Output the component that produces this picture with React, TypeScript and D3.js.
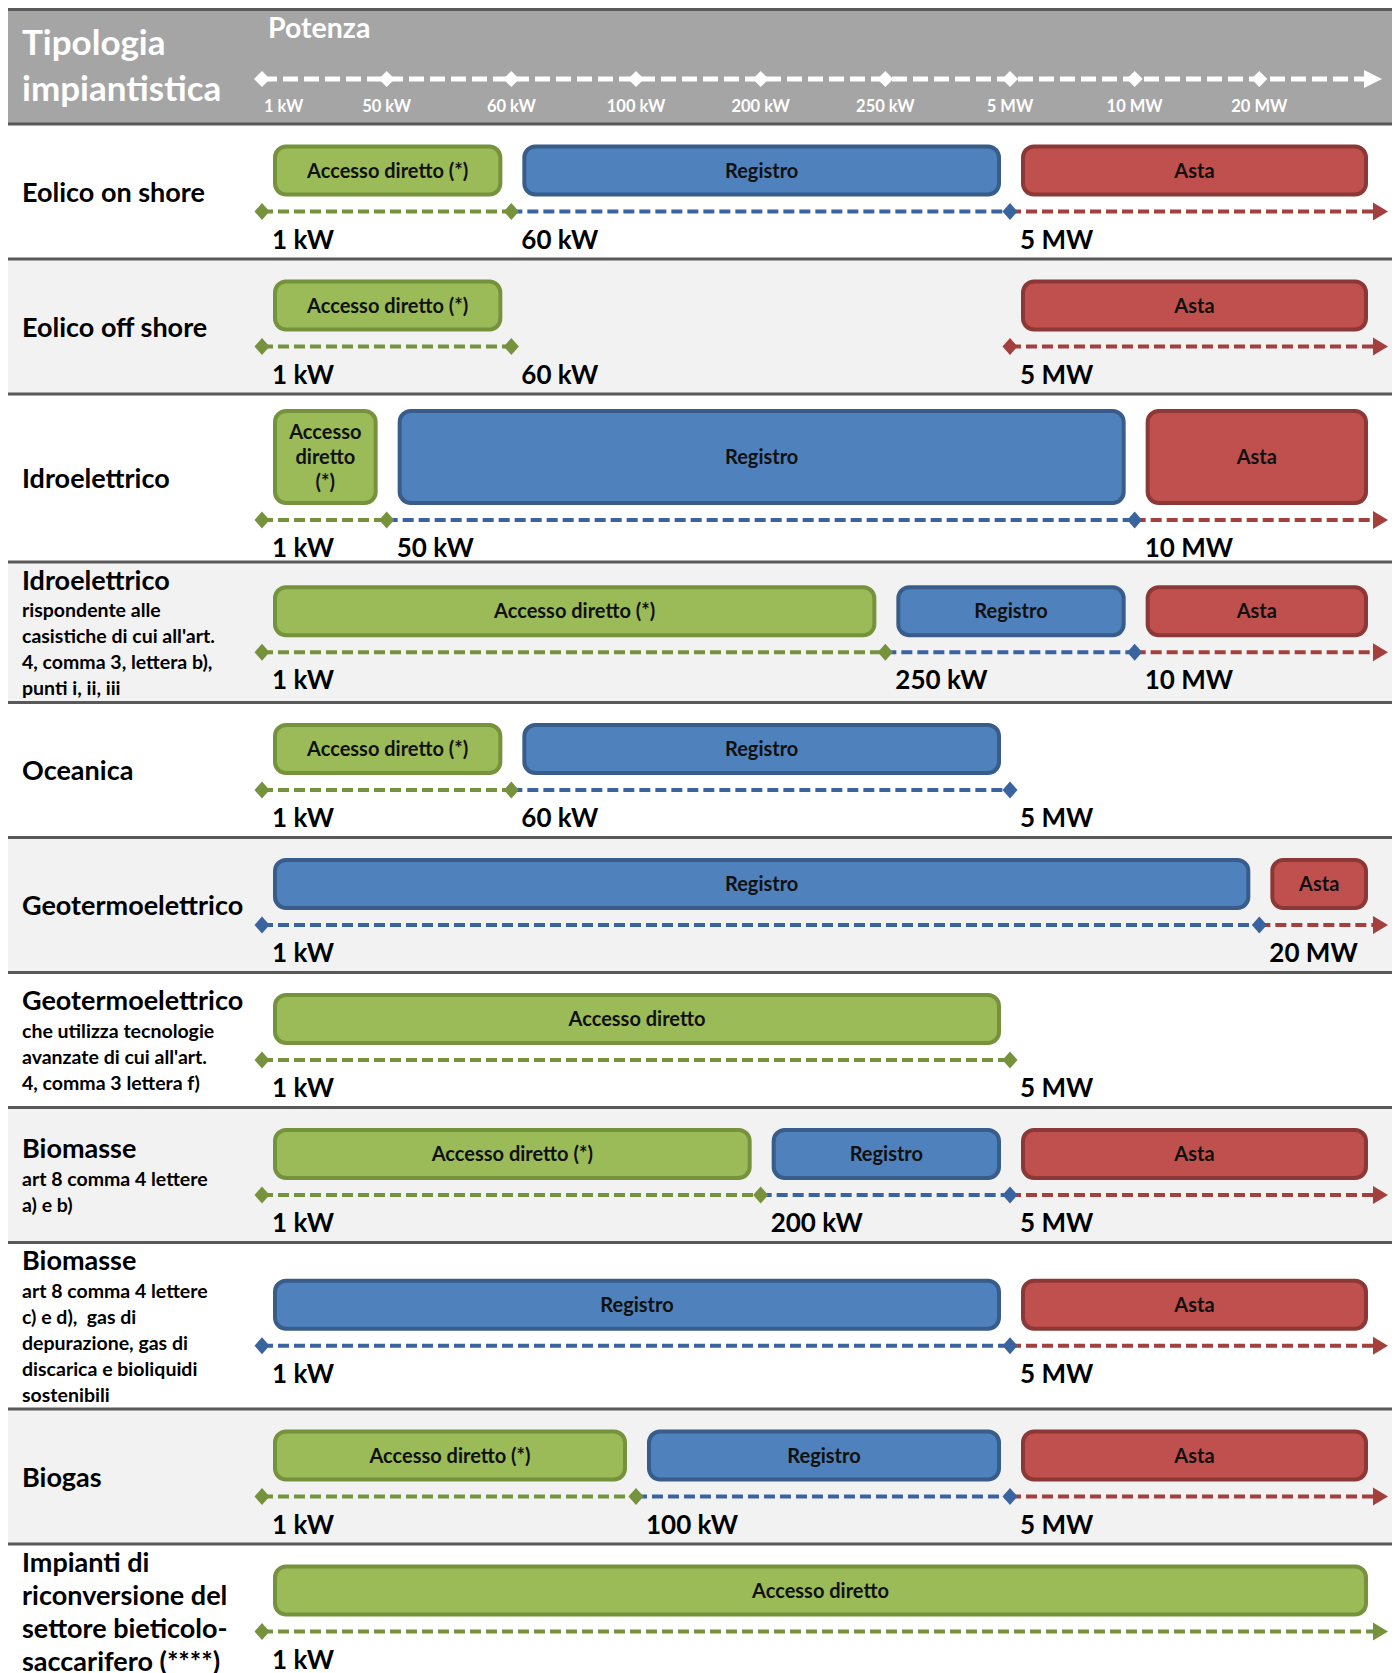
import React from "react";
import * as d3 from "d3";

// ---------- DATA ----------
const TICKS = ["1 kW", "50 kW", "60 kW", "100 kW", "200 kW", "250 kW", "5 MW", "10 MW", "20 MW"];
const OPEN_END = "oltre";

const CATEGORY_TITLES: string[][] = [
  ["Eolico on shore"],
  ["Eolico off shore"],
  ["Idroelettrico"],
  ["Idroelettrico"],
  ["Oceanica"],
  ["Geotermoelettrico"],
  ["Geotermoelettrico"],
  ["Biomasse"],
  ["Biomasse"],
  ["Biogas"],
  ["Impianti di", "riconversione del", "settore bieticolo-", "saccarifero (****)"],
];

const CATEGORY_NOTES: string[][] = [
  [],
  [],
  [],
  ["rispondente alle", "casistiche di cui all'art.", "4, comma 3, lettera b),", "punti i, ii, iii"],
  [],
  [],
  ["che utilizza tecnologie", "avanzate di cui all'art.", "4, comma 3 lettera f)"],
  ["art 8 comma 4 lettere", "a) e b)"],
  ["art 8 comma 4 lettere", "c) e d),  gas di", "depurazione, gas di", "discarica e bioliquidi", "sostenibili"],
  [],
  [],
];

const THRESHOLDS: string[][] = [
  ["1 kW", "60 kW", "5 MW"],
  ["1 kW", "60 kW", "5 MW"],
  ["1 kW", "50 kW", "10 MW"],
  ["1 kW", "250 kW", "10 MW"],
  ["1 kW", "60 kW", "5 MW"],
  ["1 kW", "20 MW"],
  ["1 kW", "5 MW"],
  ["1 kW", "200 kW", "5 MW"],
  ["1 kW", "5 MW"],
  ["1 kW", "100 kW", "5 MW"],
  ["1 kW"],
];

// [row, from, to, text]
type Seg = [number, string, string, string];

const ACCESSO_DIRETTO: Seg[] = [
  [0, "1 kW", "60 kW", "Accesso diretto (*)"],
  [1, "1 kW", "60 kW", "Accesso diretto (*)"],
  [2, "1 kW", "50 kW", "Accesso diretto (*)"],
  [3, "1 kW", "250 kW", "Accesso diretto (*)"],
  [4, "1 kW", "60 kW", "Accesso diretto (*)"],
  [6, "1 kW", "5 MW", "Accesso diretto"],
  [7, "1 kW", "200 kW", "Accesso diretto (*)"],
  [9, "1 kW", "100 kW", "Accesso diretto (*)"],
  [10, "1 kW", OPEN_END, "Accesso diretto"],
];

const REGISTRO: Seg[] = [
  [0, "60 kW", "5 MW", "Registro"],
  [2, "50 kW", "10 MW", "Registro"],
  [3, "250 kW", "10 MW", "Registro"],
  [4, "60 kW", "5 MW", "Registro"],
  [5, "1 kW", "20 MW", "Registro"],
  [7, "200 kW", "5 MW", "Registro"],
  [8, "1 kW", "5 MW", "Registro"],
  [9, "100 kW", "5 MW", "Registro"],
];

const ASTA: Seg[] = [
  [0, "5 MW", OPEN_END, "Asta"],
  [1, "5 MW", OPEN_END, "Asta"],
  [2, "10 MW", OPEN_END, "Asta"],
  [3, "10 MW", OPEN_END, "Asta"],
  [5, "20 MW", OPEN_END, "Asta"],
  [7, "5 MW", OPEN_END, "Asta"],
  [8, "5 MW", OPEN_END, "Asta"],
  [9, "5 MW", OPEN_END, "Asta"],
];

// ---------- STYLE / LAYOUT ----------
const REGIMES = [
  { segs: ACCESSO_DIRETTO, fill: "#9bbb59", stroke: "#76923c", line: "#76923c" },
  { segs: REGISTRO, fill: "#4f81bd", stroke: "#385d8a", line: "#3a64a0" },
  { segs: ASTA, fill: "#c0504d", stroke: "#8c3836", line: "#a33f3c" },
];

const FONT = "Lato, 'Open Sans', sans-serif";
const W = 1384;
const HEADER_H = 116;
const BASE_ROW_H = 135;
const BOX_FONT = 20;
const TITLE_FONT = 27;
const NOTE_FONT = 19.5;

const x = d3.scalePoint<string>().domain([...TICKS, OPEN_END]).range([254, 1376]);

let ctx: CanvasRenderingContext2D | null = null;
function textW(s: string, font: string) {
  if (!ctx) ctx = document.createElement("canvas").getContext("2d");
  if (!ctx) return s.length * 9;
  ctx.font = font;
  return ctx.measureText(s).width;
}

function wrap(text: string, maxW: number, font: string): string[] {
  if (textW(text, font) <= maxW) return [text];
  const words = text.split(" ");
  const lines: string[] = [];
  let cur = "";
  for (const w of words) {
    const t = cur ? cur + " " + w : w;
    if (textW(t, font) <= maxW) cur = t;
    else {
      if (cur) lines.push(cur);
      cur = w;
    }
  }
  if (cur) lines.push(cur);
  return lines;
}

function diamond(cx: number, cy: number, hw: number, hh: number) {
  const p = d3.path();
  p.moveTo(cx, cy - hh);
  p.lineTo(cx + hw, cy);
  p.lineTo(cx, cy + hh);
  p.lineTo(cx - hw, cy);
  p.closePath();
  return p.toString();
}

function arrow(tipX: number, cy: number, len: number, hh: number) {
  const p = d3.path();
  p.moveTo(tipX, cy);
  p.lineTo(tipX - len, cy - hh);
  p.lineTo(tipX - len, cy + hh);
  p.closePath();
  return p.toString();
}

type RowSeg = { from: string; to: string; text: string; fill: string; stroke: string; line: string; lines: string[]; x0: number; x1: number };

function buildRows() {
  const boxFont = `bold ${BOX_FONT}px ${FONT}`;
  const rows = CATEGORY_TITLES.map((titles, i) => {
    const segs: RowSeg[] = [];
    REGIMES.forEach((r) => {
      r.segs.filter((s) => s[0] === i).forEach((s) => {
        const x0 = (x(s[1]) as number) + 13;
        const x1 = s[2] === OPEN_END ? (x(OPEN_END) as number) - 18 : (x(s[2]) as number) - 11;
        const lines = wrap(s[3], x1 - x0 - 34, boxFont);
        segs.push({ from: s[1], to: s[2], text: s[3], fill: r.fill, stroke: r.stroke, line: r.line, lines, x0, x1 });
      });
    });
    segs.sort((a, b) => (x(a.from) as number) - (x(b.from) as number));
    const boxH = Math.max(48, ...segs.map((s) => 17 + s.lines.length * 25));
    const block = boxH + 17 + 37;
    const notes = CATEGORY_NOTES[i];
    const lastOffset = (titles.length - 1) * 33 + (notes.length ? 27.5 + (notes.length - 1) * 26 : 0);
    const labelExtent = 19 + lastOffset + 6;
    const h = Math.max(BASE_ROW_H, block + 22, labelExtent + 10);
    return { titles, notes, segs, boxH, block, h, lastOffset, thresholds: THRESHOLDS[i] };
  });
  let y = HEADER_H;
  return rows.map((r) => {
    const top = y;
    y += r.h;
    return { ...r, top };
  });
}

export default function App() {
  const rows = buildRows();
  const H = rows[rows.length - 1].top + rows[rows.length - 1].h;
  const axisY = 71;

  return (
    <svg width={W} height={H} style={{ display: "block" }} fontFamily={FONT}>
      {/* Header */}
      <rect x={0} y={0} width={W} height={HEADER_H} fill="#a5a5a5" />
      <text x={14} y={47} fontSize={35} fontWeight="bold" fill="#fff">Tipologia</text>
      <text x={14} y={93} fontSize={35} fontWeight="bold" fill="#fff">impiantistica</text>
      <text x={260} y={30} fontSize={28.5} fontWeight="bold" fill="#fff">Potenza</text>
      <line
        x1={x(TICKS[0])}
        x2={(x(OPEN_END) as number) - 12}
        y1={axisY}
        y2={axisY}
        stroke="#fff"
        strokeWidth={5}
        strokeDasharray="15 6"
      />
      <path d={arrow((x(OPEN_END) as number) - 2, axisY, 18, 9)} fill="#fff" />
      {TICKS.map((t, i) => (
        <g key={t}>
          <path d={diamond(x(t) as number, axisY, 8, 8)} fill="#fff" />
          <text
            x={(x(t) as number) + (i === 0 ? 2 : 0)}
            y={104}
            fontSize={16.5}
            fontWeight="bold"
            fill="#fff"
            textAnchor={i === 0 ? "start" : "middle"}
          >
            {t}
          </text>
        </g>
      ))}

      {/* Rows */}
      {rows.map((r, i) => {
        const cy = r.h / 2;
        const firstBase = cy - r.lastOffset / 2 + 10;
        const boxTop = cy - r.block / 2 + 6;
        const lineY = boxTop + r.boxH + 17;
        const labY = lineY + 37;
        return (
          <g key={i} transform={`translate(0,${r.top})`}>
            <rect x={0} y={0} width={W} height={r.h} fill={i % 2 === 1 ? "#f2f2f2" : "#ffffff"} />
            {/* category label */}
            {r.titles.map((t, j) => (
              <text key={"t" + j} x={14} y={firstBase + j * 33} fontSize={TITLE_FONT} fontWeight="bold" fill="#000">
                {t}
              </text>
            ))}
            {r.notes.map((t, j) => (
              <text
                key={"n" + j}
                x={14}
                y={firstBase + (r.titles.length - 1) * 33 + 27.5 + j * 26}
                fontSize={NOTE_FONT}
                fontWeight="bold"
                fill="#000"
                style={{ whiteSpace: "pre" }}
              >
                {t}
              </text>
            ))}
            {/* boxes */}
            {r.segs.map((s, j) => {
              const bh = r.boxH;
              const n = s.lines.length;
              const midY = boxTop + bh / 2;
              return (
                <g key={"b" + j}>
                  <rect
                    x={s.x0}
                    y={boxTop}
                    width={s.x1 - s.x0}
                    height={bh}
                    rx={11}
                    ry={11}
                    fill={s.fill}
                    stroke={s.stroke}
                    strokeWidth={4}
                  />
                  {s.lines.map((ln, k) => (
                    <text
                      key={k}
                      x={(s.x0 + s.x1) / 2}
                      y={midY + (k - (n - 1) / 2) * 25 + 7}
                      fontSize={BOX_FONT}
                      fontWeight="bold"
                      fill="#111"
                      textAnchor="middle"
                    >
                      {ln}
                    </text>
                  ))}
                </g>
              );
            })}
            {/* dashed lines */}
            {r.segs.map((s, j) => (
              <line
                key={"l" + j}
                x1={x(s.from)}
                x2={s.to === OPEN_END ? (x(OPEN_END) as number) - 8 : x(s.to)}
                y1={lineY}
                y2={lineY}
                stroke={s.line}
                strokeWidth={4}
                strokeDasharray="11 5"
              />
            ))}
            {/* start markers */}
            {r.segs.map((s, j) =>
              j === 0 || r.segs[j - 1].to !== s.from ? (
                <path key={"s" + j} d={diamond(x(s.from) as number, lineY, 7.5, 8.5)} fill={s.line} />
              ) : null
            )}
            {/* end markers */}
            {r.segs.map((s, j) =>
              s.to === OPEN_END ? (
                <path key={"e" + j} d={arrow((x(OPEN_END) as number) + 4, lineY, 15, 9)} fill={s.line} />
              ) : (
                <path key={"e" + j} d={diamond(x(s.to) as number, lineY, 7.5, 8.5)} fill={s.line} />
              )
            )}
            {/* threshold labels */}
            {r.thresholds.map((t) => (
              <text key={"th" + t} x={(x(t) as number) + 10} y={labY} fontSize={26} fontWeight="bold" fill="#000">
                {t}
              </text>
            ))}
          </g>
        );
      })}

      {/* separators */}
      {[0, ...rows.map((r) => r.top)].map((yy, i) => (
        <line key={"sep" + i} x1={0} x2={W} y1={i === 0 ? 1.5 : yy} y2={i === 0 ? 1.5 : yy} stroke="#595959" strokeWidth={3} />
      ))}
    </svg>
  );
}
